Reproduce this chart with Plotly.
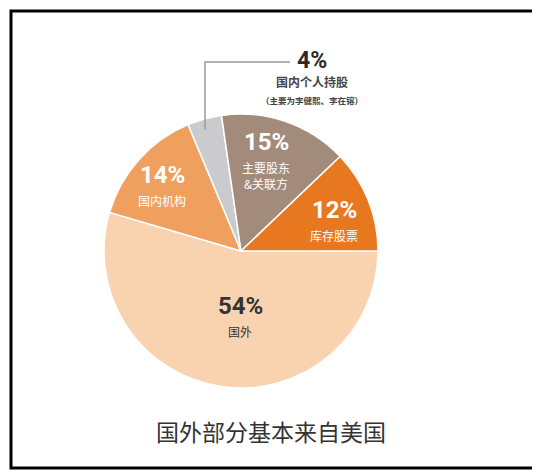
import math
import plotly.graph_objects as go

# data
labels = ["国外", "国内机构", "国内个人持股", "主要股东<br>&关联方", "库存股票"]
values = [54, 14, 4, 15, 12]
colors = ["#F9D3B0", "#EF9F5E", "#C9CBCE", "#A38B7B", "#E8781F"]
note_4 = "（主要为李健熙、李在镕）"
title = "国外部分基本来自美国"

OFF = 8  # browser body margin
W, H = 540 - OFF, 475 - OFF
cx, cy, R = 241, 251, 137   # pie centre / radius in reference px


def px(x, y):
    return (x - OFF) / W, 1 - (y - OFF) / H


def note(x, y, text, font):
    xx, yy = px(x, y)
    return dict(x=xx, y=yy, xref="paper", yref="paper", showarrow=False,
                xanchor="center", yanchor="middle", text=text, font=font)


fig = go.Figure()
x0, y1 = px(cx - R, cy - R)
x1, y0 = px(cx + R, cy + R)
fig.add_trace(go.Pie(
    labels=labels, values=values, sort=False, direction="clockwise", rotation=90,
    marker=dict(colors=colors, line=dict(color="white", width=1.5)),
    textinfo="none", hoverinfo="label+value",
    domain=dict(x=[x0, x1], y=[y0, y1]),
    showlegend=False,
))

# label positions (px) for each inside slice label
label_pos = [(240, 306), (162, 175), None, (266, 142), (334, 210)]
txt_col = ["#333333", "white", None, "white", "white"]
pct_font = "Roboto, sans-serif"
cjk = "Noto Sans CJK SC"

ann = []
for i, p in enumerate(label_pos):
    if p is None:
        continue
    ann.append(note(p[0], p[1], "<b>%d%%</b>" % values[i],
                    dict(family=pct_font, size=24, color=txt_col[i])))
    nl = labels[i].count("<br>")
    ann.append(note(p[0], p[1] + 25 + nl * 8, labels[i],
                    dict(family=cjk, size=12, color=txt_col[i])))

# outside label for the small slice, with leader line
tot = sum(values)
start = 90 + sum(values[:2]) / tot * 360
mid = start + values[2] / tot * 360 * 0.35
ey = cy - R * 0.93 * math.cos(math.radians(mid))
lx, ly = 205, 62
ann.append(note(312, 61, "<b>%d%%</b>" % values[2], dict(family=pct_font, size=23, color="#2a2a2a")))
ann.append(note(312, 82, "<b>" + labels[2] + "</b>", dict(family=cjk, size=12, color="#444")))
ann.append(note(312, 100, "<b>" + note_4 + "</b>", dict(family=cjk, size=8.5, color="#444")))
ann.append(note(271, 431, title, dict(family=cjk, size=23, color="#333")))

bx0, by0 = px(11, 11)
bx1, by1 = px(534, 468)
shapes = [
    dict(type="rect", xref="paper", yref="paper", x0=bx0, x1=bx1, y0=by1, y1=by0,
         line=dict(color="black", width=3)),
    dict(type="path", xref="paper", yref="paper",
         path="M %f %f L %f %f L %f %f" % (px(lx, ey) + px(lx, ly) + px(290, ly)),
         line=dict(color="#9a9a9a", width=1.5)),
]

fig.update_layout(width=W, height=H, margin=dict(l=0, r=0, t=0, b=0),
                  paper_bgcolor="white", plot_bgcolor="white",
                  annotations=ann, shapes=shapes)

fig.write_html("out.html")
